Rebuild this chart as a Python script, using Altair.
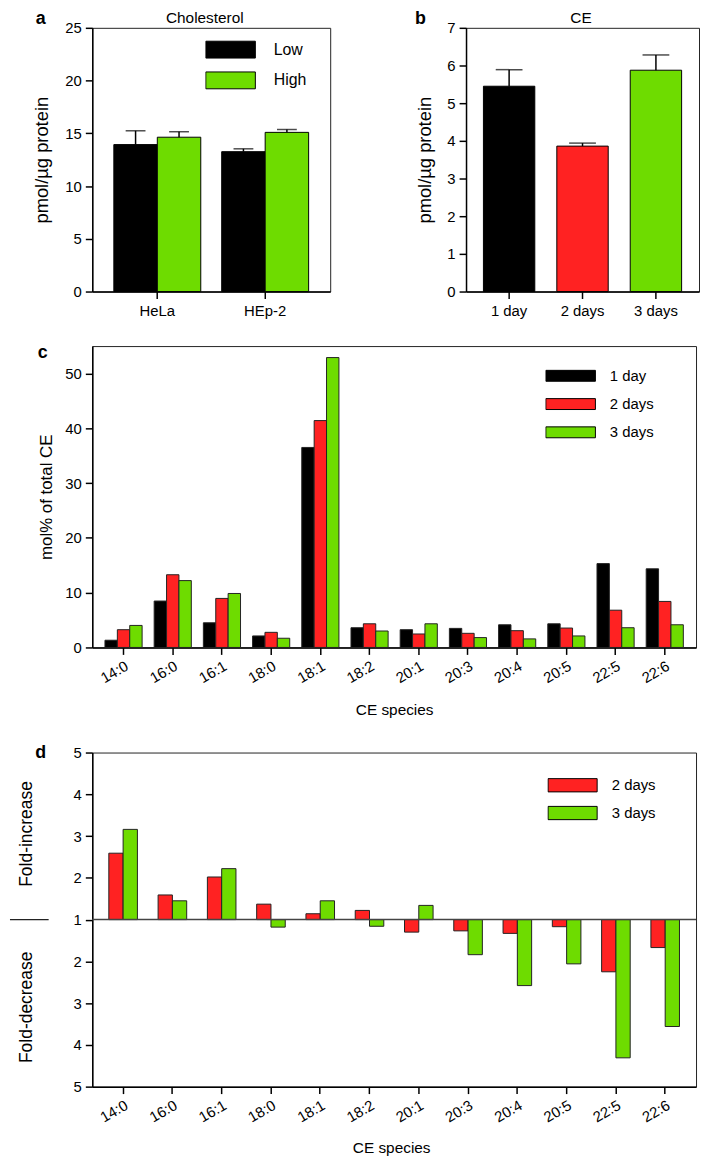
import altair as alt
import pandas as pd

# ---------------- data ----------------
chol_cells = ["HeLa", "HeLa", "HEp-2", "HEp-2"]
chol_levels = ["Low", "High", "Low", "High"]
chol_mean = [13.93, 14.63, 13.26, 15.09]
chol_upper = [15.24, 15.15, 13.53, 15.36]

ce_days = ["1 day", "2 days", "3 days"]
ce_mean = [5.45, 3.86, 5.875]
ce_upper = [5.89, 3.94, 6.28]

species = ["14:0", "16:0", "16:1", "18:0", "18:1", "18:2",
           "20:1", "20:3", "20:4", "20:5", "22:5", "22:6"]
mol_1day = [1.32, 8.47, 4.5, 2.1, 36.5, 3.6, 3.24, 3.48, 4.14, 4.32, 15.3, 14.35]
mol_2days = [3.24, 13.27, 8.95, 2.76, 41.4, 4.32, 2.46, 2.58, 3.06, 3.54, 6.8, 8.4]
mol_3days = [4.02, 12.2, 9.85, 1.68, 52.9, 3.0, 4.32, 1.8, 1.56, 2.1, 3.6, 4.14]

# fold change vs 1 day (positive = fold-increase, negative = fold-decrease)
fold_2days = [2.59, 1.59, 2.02, 1.37, 1.14, 1.22, -1.30, -1.27, -1.33, -1.17, -2.25, -1.67]
fold_3days = [3.16, 1.45, 2.22, -1.18, 1.45, -1.16, 1.34, -1.84, -2.58, -2.06, -4.31, -3.56]

side_labels = ["Fold-increase", "Fold-decrease"]
side_positions = [2.05, -2.1]

BLACK, RED, GREEN = "#000000", "#ff2222", "#6edc00"
FONT = "Liberation Sans"


def ann(text, x, y, size, weight="normal"):
    return alt.Chart(pd.DataFrame({"t": [text]})).mark_text(
        font=FONT, fontSize=size, fontWeight=weight, color="black",
        align="center", baseline="middle"
    ).encode(text="t:N", x=alt.value(x), y=alt.value(y))


def rect_legend(x, y, w_path_h, size, clip, rowpad, offset, fs=15):
    return alt.Legend(
        orient="none", legendX=x, legendY=y, title=None, padding=0,
        symbolType=f"M-1,-{w_path_h}L1,-{w_path_h}L1,{w_path_h}L-1,{w_path_h}Z",
        symbolSize=size, symbolStrokeColor="black", symbolStrokeWidth=1,
        symbolOpacity=1, clipHeight=clip, rowPadding=rowpad, labelOffset=offset,
        labelFont=FONT, labelFontSize=fs, labelColor="black", symbolOffset=0,
    )


# ---------------- panel a ----------------
A_W, A_H = 240, 266
dfa = pd.DataFrame({"cell": chol_cells, "level": chol_levels,
                    "mean": chol_mean, "upper": chol_upper})
xa = alt.X("cell:N", sort=["HeLa", "HEp-2"],
           scale=alt.Scale(paddingInner=0.194, paddingOuter=0.2),
           axis=alt.Axis(title=None, labelAngle=0, labelPadding=5))
oa = alt.XOffset("level:N", sort=["Low", "High"])
ya_axis = alt.Axis(values=[0, 5, 10, 15, 20, 25], title="pmol/µg protein",
                   titleX=-51, titleY=A_H / 2, titleAngle=270,
                   titleBaseline="middle", titleAlign="center", titleFontSize=18.5)
ya_scale = alt.Scale(domain=[0, 25])
base_a = alt.Chart(dfa)
bars_a = base_a.mark_bar(stroke="black", strokeWidth=1).encode(
    x=xa, xOffset=oa,
    y=alt.Y("mean:Q", scale=ya_scale, axis=ya_axis),
    color=alt.Color("level:N", scale=alt.Scale(domain=["Low", "High"], range=[BLACK, GREEN]),
                    legend=rect_legend(114, 9, 0.34, 2500, 26, 5, 18, 16)),
)
err_a = base_a.mark_rule(color="black", strokeWidth=1.5).encode(
    x=xa, xOffset=oa, y=alt.Y("mean:Q", scale=ya_scale, axis=ya_axis), y2="upper:Q")
cap_a = base_a.mark_tick(color="black", thickness=1.5, size=20).encode(
    x=xa, xOffset=oa, y=alt.Y("upper:Q", scale=ya_scale, axis=ya_axis))
chart_a = alt.layer(bars_a, err_a, cap_a,
                    ann("a", -52, -9, 18, "bold"),
                    ann("Cholesterol", 113.5, -10, 15.5)).properties(width=A_W, height=A_H)

# ---------------- panel b ----------------
B_W = 235
dfb = pd.DataFrame({"day": ce_days, "mean": ce_mean, "upper": ce_upper})
xb = alt.X("day:N", sort=ce_days, scale=alt.Scale(paddingInner=0.30, paddingOuter=0.237),
           axis=alt.Axis(title=None, labelAngle=0, labelPadding=5))
yb_axis = alt.Axis(values=[0, 1, 2, 3, 4, 5, 6, 7], title="pmol/µg protein",
                   titleX=-42, titleY=A_H / 2, titleAngle=270,
                   titleBaseline="middle", titleAlign="center", titleFontSize=18.5)
yb_scale = alt.Scale(domain=[0, 7])
base_b = alt.Chart(dfb)
bars_b = base_b.mark_bar(stroke="black", strokeWidth=1).encode(
    x=xb, y=alt.Y("mean:Q", scale=yb_scale, axis=yb_axis),
    color=alt.Color("day:N", scale=alt.Scale(domain=ce_days, range=[BLACK, RED, GREEN]), legend=None),
)
err_b = base_b.mark_rule(color="black", strokeWidth=1.5).encode(
    x=xb, y=alt.Y("mean:Q", scale=yb_scale, axis=yb_axis), y2="upper:Q")
cap_b = base_b.mark_tick(color="black", thickness=1.5, size=27).encode(
    x=xb, y=alt.Y("upper:Q", scale=yb_scale, axis=yb_axis))
chart_b = alt.layer(bars_b, err_b, cap_b,
                    ann("b", -46, -9, 18, "bold"),
                    ann("CE", 116, -10, 15.5)).properties(width=B_W, height=A_H)

# ---------------- panel c ----------------
C_W, C_H = 609, 304
dfc = pd.DataFrame({
    "species": species * 3,
    "day": ["1 day"] * 12 + ["2 days"] * 12 + ["3 days"] * 12,
    "mol": mol_1day + mol_2days + mol_3days,
})
xc = alt.X("species:N", sort=species, scale=alt.Scale(paddingInner=0.245, paddingOuter=0.258),
           axis=alt.Axis(title="CE species", labelAngle=-30, labelAlign="right",
                         labelBaseline="top", labelPadding=4, labelOverlap=False,
                         titleX=C_W / 2, titleY=63, titleBaseline="middle",
                         titleFontSize=15.5))
yc = alt.Y("mol:Q", scale=alt.Scale(domain=[0, 55]),
           axis=alt.Axis(values=[0, 10, 20, 30, 40, 50], title="mol% of total CE",
                         titleX=-46, titleY=C_H / 2, titleAngle=270,
                         titleBaseline="middle", titleAlign="center", titleFontSize=17))
bars_c = alt.Chart(dfc).mark_bar(stroke="#222", strokeWidth=1).encode(
    x=xc, xOffset=alt.XOffset("day:N", sort=ce_days), y=yc,
    color=alt.Color("day:N", scale=alt.Scale(domain=ce_days, range=[BLACK, RED, GREEN]),
                    legend=rect_legend(457, 19, 0.22, 2500, 22, 6.5, 14)),
)
chart_c = alt.layer(bars_c, ann("c", -50, 7, 18, "bold")).properties(width=C_W, height=C_H)

# ---------------- panel d ----------------
D_W, D_H = 609, 337
dfd = pd.DataFrame({
    "species": species * 2,
    "day": ["2 days"] * 12 + ["3 days"] * 12,
    "fold": fold_2days + fold_3days,
})
xd = alt.X("species:N", sort=species, scale=alt.Scale(paddingInner=0.42, paddingOuter=0.336),
           axis=alt.Axis(title="CE species", labelAngle=-30, labelAlign="right",
                         labelBaseline="top", labelPadding=4, labelOverlap=False,
                         titleX=D_W / 2 - 3, titleY=61, titleBaseline="middle",
                         titleFontSize=15.5))
yd_scale = alt.Scale(domain=[-4, 4])
yd_axis = alt.Axis(values=[-4, -3, -2, -1, 0, 1, 2, 3, 4], labelExpr="abs(datum.value) + 1",
                   title=None)
bars_d = alt.Chart(dfd).transform_calculate(
    bar="datum.fold > 0 ? datum.fold - 1 : datum.fold + 1"
).mark_bar(stroke="#222", strokeWidth=1).encode(
    x=xd, xOffset=alt.XOffset("day:N", sort=["2 days", "3 days"]),
    y=alt.Y("bar:Q", scale=yd_scale, axis=yd_axis),
    color=alt.Color("day:N", scale=alt.Scale(domain=["2 days", "3 days"], range=[RED, GREEN]),
                    legend=rect_legend(459, 20, 0.27, 2450, 26, 2, 14)),
)
one = pd.DataFrame({"k": [0]})
zero_d = alt.Chart(one).mark_rule(color="#444", strokeWidth=1.5).encode(y=alt.datum(0))
left_d = alt.Chart(one).mark_rule(color="#222", strokeWidth=1.2).encode(
    x=alt.value(-83), x2=alt.value(-44), y=alt.datum(0))
side_d = alt.Chart(pd.DataFrame({"label": side_labels, "pos": side_positions})).mark_text(
    font=FONT, fontSize=17.6, angle=270, color="black", align="center", baseline="middle"
).encode(text="label:N", x=alt.value(-66),
         y=alt.Y("pos:Q", scale=yd_scale, axis=yd_axis))
chart_d = alt.layer(bars_d, zero_d, left_d, side_d,
                    ann("d", -52, 0, 18, "bold")).properties(width=D_W, height=D_H)

# ---------------- assemble ----------------
IND = dict(color="independent", x="independent", y="independent", xOffset="independent")
top = alt.hconcat(chart_a, chart_b, spacing=84).resolve_scale(**IND).resolve_legend(color="independent")
chart = alt.vconcat(top, chart_c, chart_d, spacing=24).resolve_scale(**IND).resolve_legend(
    color="independent"
).properties(
    padding={"left": 0, "top": -4, "right": 0, "bottom": 0}
).configure_view(stroke="#222", strokeWidth=1).configure_axis(
    labelFont=FONT, labelFontSize=15, labelColor="black", titleFont=FONT,
    titleColor="black", titleFontWeight="normal", domainColor="black",
    domainWidth=1.5, tickColor="black", tickWidth=1.5, tickSize=7, grid=False,
    labelPadding=4,
)

chart.save("out.html", embed_options={"renderer": "svg", "actions": False})
